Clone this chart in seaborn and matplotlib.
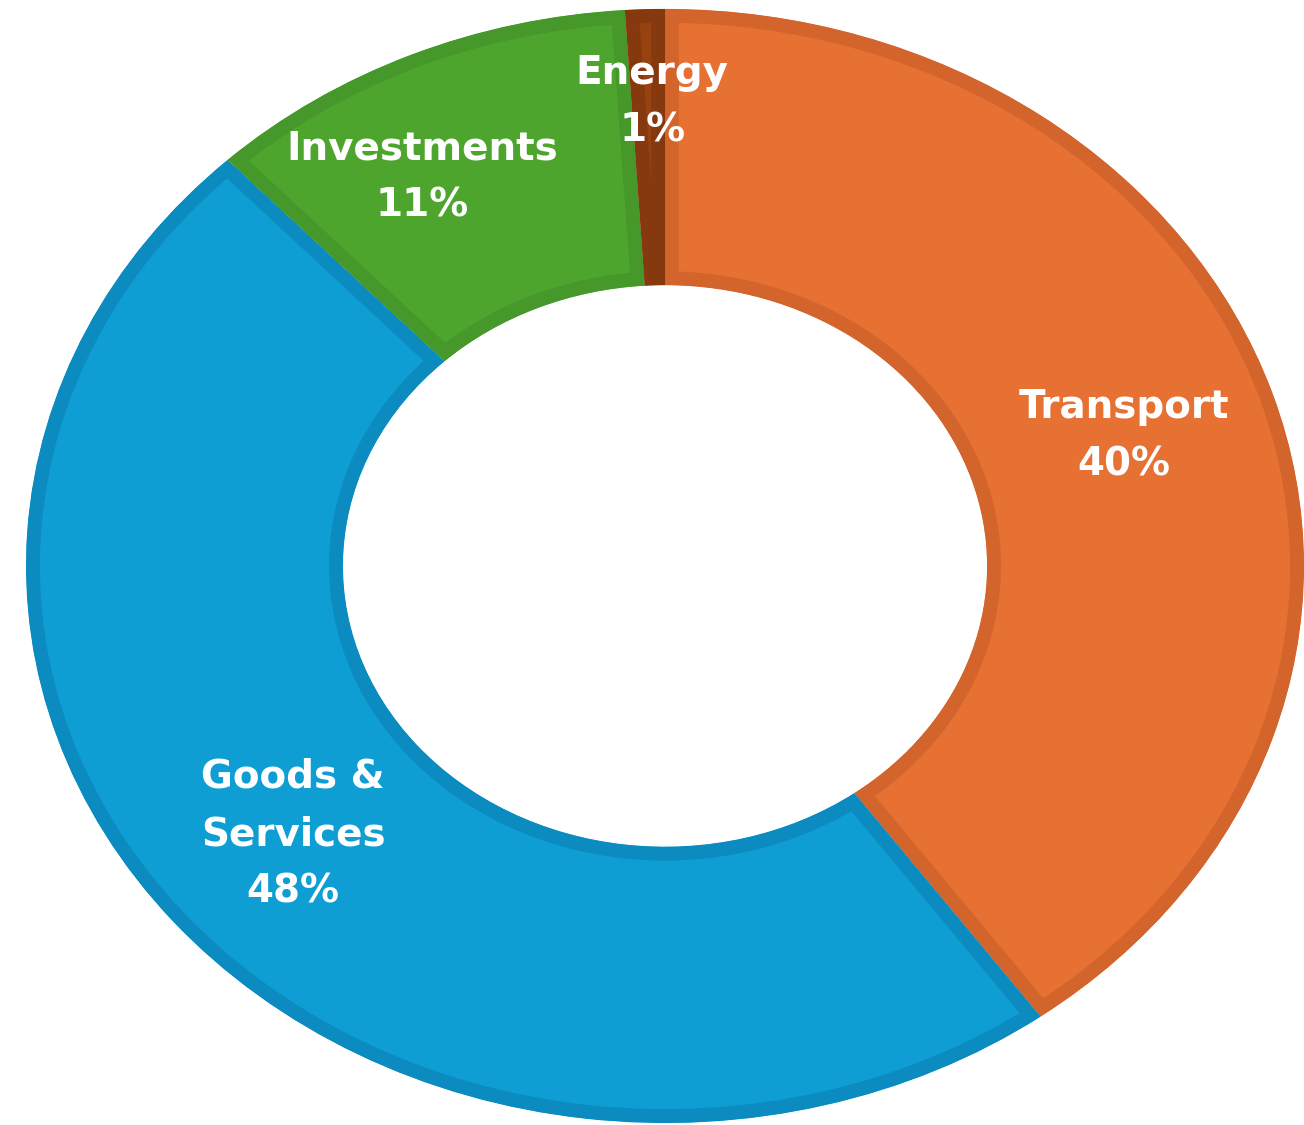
import matplotlib
matplotlib.use('Agg')
import matplotlib.pyplot as plt
import seaborn as sns

sns.set_theme(style='white')
plt.rcParams['font.family'] = ['DejaVu Sans']

# Data (clockwise from 12 o'clock)
categories = ['Transport', 'Goods &\nServices', 'Investments', 'Energy']
shares = [40, 48, 11, 1]

fill_colors = ['#E77033', '#0E9ED4', '#4EA52E', '#97420F']
edge_colors = ['#D2642C', '#0B8BBF', '#46982A', '#86390F']


def main() -> None:
    """Draws the donut chart and saves it."""
    fig = plt.figure(figsize=(13.04, 11.25), dpi=100)
    ax = fig.add_axes([0, 0, 1, 1])
    labels = [f'{cat}\n{val}%' for cat, val in zip(categories, shares)]
    wedges, texts = ax.pie(
        shares,
        labels=labels,
        colors=fill_colors,
        startangle=90,
        counterclock=False,
        radius=1.0,
        labeldistance=0.755,
        wedgeprops={'width': 0.496, 'linewidth': 20},
        textprops={
            'ha': 'center', 'va': 'center', 'color': 'white',
            'fontsize': 28, 'fontweight': 'bold', 'linespacing': 1.65,
        },
    )
    # darker border drawn only on the inside of each wedge
    for wedge, ec in zip(wedges, edge_colors):
        wedge.set_edgecolor(ec)
        wedge.set_clip_on(True)
        wedge.set_clip_path(wedge)
    # small slices: labels pushed outward like the original
    texts[2].set_position((-0.380, 0.698))
    texts[3].set_position((-0.020, 0.833))

    # chart is stretched horizontally and cropped at the edges
    ax.set_aspect('auto')
    ax.set_xlim(-1.0407, 1.0)
    ax.set_ylim(-1.0036, 1.016)
    ax.axis('off')
    fig.savefig('out.png', dpi=100)
    plt.close(fig)


if __name__ == '__main__':
    main()
